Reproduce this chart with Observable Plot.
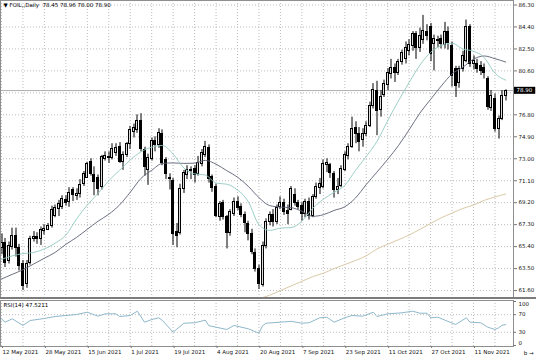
<!DOCTYPE html>
<html><head><meta charset="utf-8">
<script src="https://cdn.jsdelivr.net/npm/d3@7"></script>
<script src="https://cdn.jsdelivr.net/npm/@observablehq/plot@0.6"></script>
<style>
body{margin:0;background:#fff;}
#chart{position:relative;width:536px;height:357px;overflow:hidden;background:#fff;}
#main{position:absolute;left:0;top:0;}
#sep{position:absolute;left:0;top:297px;width:536px;height:2px;background:#7c7c7c;}
#rsi{position:absolute;left:0;top:299px;}
</style></head>
<body>
<div id="chart"><div id="main"></div><div id="sep"></div><div id="rsi"></div></div>
<script>
// ---- data ----
const symbol = "FOIL,";
const timeframe = "Daily";
const O = [65.3,65.8,64.2,65.4,66.4,65.3,63.9,62.2,64.0,66.1,66.3,66.1,66.8,66.9,67.2,68.1,68.7,68.9,69.5,69.3,70.3,69.8,70.0,70.9,71.4,72.8,71.6,71.4,70.6,73.0,73.2,73.1,73.5,74.1,72.8,73.4,74.3,75.4,75.5,76.3,73.8,72.1,73.0,74.6,74.2,75.2,72.9,71.4,71.1,66.7,66.6,70.4,71.6,72.1,72.2,71.7,72.6,73.4,74.0,71.5,70.6,68.0,69.2,68.0,66.6,68.3,69.3,68.9,68.2,67.4,66.5,64.9,63.5,62.1,65.5,67.6,68.2,67.6,68.9,69.2,68.5,68.6,69.9,69.2,69.0,68.3,69.3,68.1,69.7,70.5,70.6,72.5,72.5,71.7,70.3,70.7,72.1,73.3,74.1,75.7,75.2,74.7,75.2,75.9,77.6,78.9,77.3,78.6,79.4,80.4,80.9,80.5,81.4,81.7,82.4,82.8,83.8,82.6,83.3,84.0,84.4,83.0,83.3,83.4,82.9,84.0,82.8,80.8,79.6,80.8,81.5,84.4,81.2,81.2,81.1,80.9,79.9,77.4,78.2,75.6,76.5,78.45];
const H = [66.5,66.1,65.8,67.0,67.0,65.6,64.2,64.2,66.3,66.7,66.6,67.1,67.3,67.4,68.9,69.0,69.4,69.8,69.8,70.5,70.5,70.4,71.2,71.9,72.7,73.0,72.3,71.6,73.3,73.6,73.6,74.3,74.3,74.4,73.6,74.4,75.8,76.0,76.8,76.9,74.0,73.4,74.8,74.9,75.6,75.5,73.1,71.7,71.3,67.4,70.8,72.0,72.4,72.3,72.4,73.2,73.8,74.5,74.2,71.6,70.8,69.3,69.4,68.1,68.6,69.6,69.7,69.1,68.4,67.6,66.9,65.2,63.8,65.8,67.8,68.4,68.6,69.0,69.7,69.5,69.0,70.6,70.4,69.4,69.2,69.5,69.6,69.9,70.9,71.3,72.9,73.0,72.6,71.9,71.3,72.4,73.6,74.3,76.6,76.2,75.7,75.6,76.2,77.9,79.5,79.7,78.9,79.8,80.8,81.6,81.2,81.6,82.4,83.1,83.3,84.0,84.0,84.3,85.4,84.6,84.7,83.7,83.6,83.7,84.8,84.4,83.1,81.0,81.0,82.3,85.0,84.6,81.9,81.6,81.4,81.2,80.1,78.9,78.6,76.7,78.9,78.96];
const L = [64.7,63.6,63.9,65.1,64.5,63.3,61.6,61.8,63.8,65.8,65.6,65.5,66.4,66.8,67.0,67.9,68.0,68.6,68.9,68.8,69.3,69.4,69.6,70.6,71.3,71.5,69.8,69.8,70.3,72.8,72.6,72.9,73.2,72.6,72.0,73.1,73.8,74.8,75.2,73.6,71.5,70.7,72.8,73.6,73.9,72.4,71.2,70.3,65.5,65.3,66.4,70.0,71.2,71.2,70.9,71.5,72.3,73.1,70.9,70.1,67.9,67.6,67.7,65.2,66.3,68.0,68.5,67.9,66.6,65.9,64.7,63.2,61.7,61.9,65.2,67.2,67.1,67.3,68.6,68.1,67.3,68.5,68.9,68.6,67.6,67.9,67.7,67.9,69.5,69.9,70.4,71.8,71.3,69.6,69.9,70.5,71.9,72.9,73.9,74.3,73.6,74.0,74.9,75.7,77.3,75.0,76.6,78.3,78.9,79.9,79.6,80.2,81.1,81.2,81.9,82.3,81.6,82.2,82.9,83.2,81.4,80.6,82.6,82.5,82.5,82.4,79.2,78.3,79.1,80.5,81.3,80.9,80.7,80.4,80.2,79.9,77.2,77.1,75.3,74.7,76.3,78.00];
const C = [65.8,64.0,65.5,66.4,65.3,63.8,62.0,63.9,66.1,66.3,66.1,66.9,67.0,67.2,68.6,68.8,69.1,69.6,69.2,70.1,69.9,70.0,70.8,71.7,72.6,71.7,71.0,70.4,73.2,73.3,73.1,73.9,74.0,72.8,73.4,74.3,75.5,75.7,76.3,73.9,72.3,73.1,74.6,74.2,75.3,72.7,71.7,71.3,66.5,66.4,70.4,71.8,72.1,72.0,71.6,72.7,73.5,74.1,71.3,70.5,68.1,69.1,68.0,66.6,68.4,69.3,68.8,68.2,67.5,66.5,65.0,63.5,62.2,65.5,67.6,68.2,67.6,68.8,69.2,68.4,68.3,70.4,69.2,68.9,68.3,69.3,68.1,69.7,70.6,70.9,72.6,72.7,71.8,70.3,70.6,72.2,73.4,74.1,75.6,75.2,74.5,75.2,75.9,77.6,79.0,77.2,78.4,79.5,80.5,80.9,80.5,81.4,82.2,82.6,82.9,83.8,82.6,83.7,84.1,83.7,82.1,83.4,83.2,83.0,84.0,83.1,80.2,79.3,80.8,81.9,84.4,81.2,81.5,80.8,80.6,80.5,77.5,78.5,75.6,76.5,78.5,78.90];

// moving averages, read at every third bar
const maBars   = [0,3,6,9,12,15,18,21,24,27,30,33,36,39,42,45,48,51,54,57,60,63,66,69,72,75,78,81,84,87,90,93,96,99,102,105,108,111,114,117,120,123,126,129,132,135,138,141];
const maFast   = [64.3,64.6,64.8,64.9,65.2,65.7,66.4,67.8,69.0,70.0,71.1,72.0,72.9,73.6,74.0,74.15,73.4,72.2,71.7,71.6,70.9,70.8,70.3,69.3,67.3,66.8,67.0,67.05,67.6,68.7,69.5,70.1,70.7,72.0,73.2,74.5,76.3,78.0,79.6,81.1,82.2,82.8,83.0,82.5,82.3,81.75,80.4,79.8];
const maSlow   = [62.6,63.0,63.4,63.9,64.4,64.9,65.6,66.2,66.9,67.6,68.2,69.0,70.1,71.3,72.0,72.6,72.64,72.6,72.62,72.86,72.53,71.97,71.41,70.62,69.64,68.95,68.82,68.77,68.46,68.02,68.16,68.53,68.85,69.61,70.77,71.85,72.95,74.14,75.51,76.95,78.14,79.3,80.34,80.91,81.62,81.89,81.66,81.37];
const longBars = [72,75,78,81,84,87,90,93,96,99,102,105,108,111,114,117,120,123,126,129,132,135,138,141];
const maLong   = [60.9,61.2,61.6,62.0,62.4,62.8,63.1,63.5,63.85,64.2,64.6,65.2,65.6,66.0,66.4,66.9,67.4,67.9,68.3,68.7,69.0,69.4,69.7,69.95];

// RSI(14)
const rsiBars = [0,1,3,6,8,12,15,18,21,24,27,29,32,33,36,38,40,42,44,45,48,51,54,57,58,60,63,65,69,72,73,74,78,81,84,86,89,91,93,96,98,101,104,105,108,112,115,117,119,120,122,127,130,131,134,136,138,139,140,141];
const rsiVals = [60.7,53,60.7,45.5,56.8,61.4,65.9,68.2,70.5,75.7,66.6,72,72,65.9,68.2,78,53,59,63,56.8,30.2,50.7,51.6,57.5,45,41.6,36.4,45.5,38,28,45,50.7,53,55,50.7,51.6,63,64.3,53,63,68.2,66.6,75.7,65.9,72,74.3,78,73.4,73.4,63,64.3,47.7,63,53,51.6,41.6,36.4,40,46,47.52];
const rsiCurrent = 47.5211;

// axes
const priceTicks = [61.6,63.5,65.4,67.3,69.2,71.1,73.0,74.9,76.8,78.7,80.6,82.5,84.4,86.3];
const rsiTicks = [0,30,70,100];
const labelBars = [0,12,24,36,48,60,72,84,96,108,120,132];
const dateLabels = ["12 May 2021","28 May 2021","15 Jun 2021","1 Jul 2021","19 Jul 2021","4 Aug 2021","20 Aug 2021","7 Sep 2021","23 Sep 2021","11 Oct 2021","27 Oct 2021","11 Nov 2021"];
const gridBars = [0,6,12,18,24,30,36,42,48,54,60,66,72,78,84,90,96,102,108,114,120,126,132,138];

// ---- build ----
const bars = C.map((c, i) => ({i, o: O[i], h: H[i], l: L[i], c}));
const fast = maBars.map((b, k) => ({b, v: maFast[k]}));
const slow = maBars.map((b, k) => ({b, v: maSlow[k]}));
const long = longBars.map((b, k) => ({b, v: maLong[k]}));
const rsi = rsiBars.map((b, k) => ({b, v: rsiVals[k]}));
const last = bars[bars.length - 1];
const xDomain = [-0.28, 143.18];
const font = "DejaVu Sans, sans-serif";
const fs = 5.5;
const gridStyle = {stroke: "#bcbcbc", strokeOpacity: 1, strokeDasharray: "1,2"};
const lastLabel = last.c.toFixed(2);
// the 78.70 label sits under the current-price box
const hiddenTick = priceTicks.find(t => Math.abs(t - last.c) < 0.5);

const mainPlot = Plot.plot({
  width: 536, height: 297,
  marginLeft: 0, marginRight: 23, marginTop: 0, marginBottom: 0,
  x: {domain: xDomain, axis: null},
  y: {domain: [61.0, 86.69], axis: null},
  style: {fontFamily: font, fontSize: fs + "px", background: "transparent", overflow: "visible", color: "#111"},
  marks: [
    Plot.gridY(priceTicks, gridStyle),
    Plot.gridX(gridBars, gridStyle),
    Plot.ruleY([last.c], {stroke: "#b0b0b0", strokeWidth: 1}),
    Plot.ruleX(bars, {x: "i", y1: "l", y2: "h", stroke: "#000", strokeWidth: 1, ariaDescription: "wicks"}),
    Plot.rect(bars.filter(d => d.c >= d.o), {x1: d => d.i - 0.3, x2: d => d.i + 0.3, y1: "o", y2: "c", fill: "#dcdcdc", stroke: "#000", strokeWidth: 1, ariaDescription: "bodies"}),
    Plot.rect(bars.filter(d => d.c < d.o), {x1: d => d.i - 0.3, x2: d => d.i + 0.3, y1: "o", y2: "c", fill: "#000", stroke: "#000", strokeWidth: 1, ariaDescription: "bodies"}),
    Plot.line(long, {x: "b", y: "v", stroke: "#d9c9a6", strokeWidth: 1, curve: "monotone-x", clip: true}),
    Plot.line(slow, {x: "b", y: "v", stroke: "#5b6072", strokeWidth: 0.9, curve: "monotone-x"}),
    Plot.line(fast, {x: "b", y: "v", stroke: "#92c8bf", strokeWidth: 0.9, curve: "monotone-x"}),
    Plot.frame({stroke: "#8f8f8f"}),
    Plot.axisY(priceTicks, {anchor: "right", tickSize: 3, tickPadding: 2, fontSize: fs, stroke: "#777",
      tickFormat: d => d === hiddenTick ? "" : d.toFixed(2)}),
    Plot.text([`\u25BC ${symbol},${timeframe}  ${last.o.toFixed(2)} ${last.h.toFixed(2)} ${last.l.toFixed(2)} ${last.c.toFixed(2)}`],
      {frameAnchor: "top-left", dx: 3, dy: 3, textAnchor: "start", lineAnchor: "top", fontSize: fs, fill: "#000"}),
    Plot.text([last.c], {y: d => d, frameAnchor: "right", dx: 3, textAnchor: "start", text: d => d.toFixed(2), fill: "#fff", fontSize: fs})
  ]
});
document.getElementById("main").appendChild(mainPlot);

// snap candle wicks and bodies to whole pixels for crisp 1px lines
d3.select(mainPlot).selectAll('g[aria-description="wicks"] line').each(function(){
  const x = Math.floor(+this.getAttribute("x1")) + 0.5;
  this.setAttribute("x1", x); this.setAttribute("x2", x);
});
d3.select(mainPlot).selectAll('g[aria-description="bodies"] rect').each(function(){
  const cx = +this.getAttribute("x") + (+this.getAttribute("width")) / 2;
  this.setAttribute("x", Math.floor(cx) - 1 + 0.5);
  this.setAttribute("width", 2);
  const y = +this.getAttribute("y"), h = +this.getAttribute("height");
  const y0 = Math.round(y) + 0.5, y1 = Math.max(Math.round(y + h) + 0.5, y0 + 1);
  this.setAttribute("y", y0); this.setAttribute("height", y1 - y0);
});

// black box behind the current price label
d3.select(mainPlot).selectAll("text").filter(function(){ return this.textContent === lastLabel; }).each(function(){
  const bb = this.getBBox();
  const r = document.createElementNS("http://www.w3.org/2000/svg", "rect");
  r.setAttribute("x", bb.x - 2.5); r.setAttribute("y", bb.y - 0.5);
  r.setAttribute("width", bb.width + 5); r.setAttribute("height", bb.height + 1);
  r.setAttribute("fill", "#000");
  const t = this.getAttribute("transform"); if (t) r.setAttribute("transform", t);
  this.parentNode.insertBefore(r, this);
});

const rsiPlot = Plot.plot({
  width: 536, height: 58,
  marginLeft: 0, marginRight: 23, marginTop: 1, marginBottom: 11,
  x: {domain: xDomain, axis: null},
  y: {domain: [-2.3, 102.3], axis: null},
  style: {fontFamily: font, fontSize: fs + "px", background: "transparent", overflow: "visible", color: "#111"},
  marks: [
    Plot.gridY([30, 70], gridStyle),
    Plot.gridX(gridBars, gridStyle),
    Plot.line(rsi, {x: "b", y: "v", stroke: "#8fb8cc", strokeWidth: 1}),
    Plot.frame({stroke: "#8f8f8f"}),
    Plot.tickY(rsiTicks, {y: d => d, stroke: "#777", insetLeft: 513, insetRight: -3}),
    Plot.text([rsiTicks[3]], {y: d => d, frameAnchor: "right", dx: 5, dy: 2.5, textAnchor: "start", fontSize: fs, fill: "#111"}),
    Plot.text([rsiTicks[2], rsiTicks[1]], {y: d => d, frameAnchor: "right", dx: 5, textAnchor: "start", fontSize: fs, fill: "#111"}),
    Plot.text([rsiTicks[0]], {y: d => d, frameAnchor: "right", dx: 5, dy: -2, textAnchor: "start", fontSize: fs, fill: "#111"}),
    Plot.axisX(labelBars, {anchor: "bottom", tickSize: 2, tickPadding: 1.5, textAnchor: "start", dx: 1, fontSize: fs, stroke: "#777",
      tickFormat: d => dateLabels[labelBars.indexOf(d)]}),
    Plot.text([`RSI(14) ${rsiCurrent.toFixed(4)}`], {frameAnchor: "top-left", dx: 3, dy: 3, lineAnchor: "top", textAnchor: "start", fontSize: fs, fill: "#000"})
  ]
});
document.getElementById("rsi").appendChild(rsiPlot);
</script>
</body></html>
